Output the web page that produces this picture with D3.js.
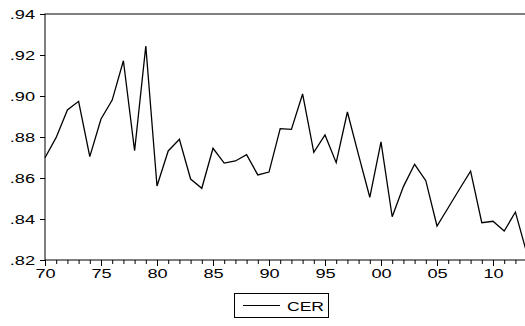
<!DOCTYPE html>
<html>
<head>
<meta charset="utf-8">
<script src="https://cdn.jsdelivr.net/npm/d3@7"></script>
<style>
  body { margin: 0; background: #fff; }
  svg { display: block; }
  text { font-family: "Liberation Sans", Arial, sans-serif; fill: #000; }
</style>
</head>
<body>
<svg id="chart"></svg>
<script>
(() => {

  // CER, annual values 1970-2013
  const years = d3.range(1970, 2014);
  const cer = [
    0.8699, 0.8798, 0.8932, 0.8974, 0.8704, 0.8888, 0.8980, 0.9172, 0.8733, 0.9244,
    0.8561, 0.8732, 0.8789, 0.8595, 0.8550, 0.8745, 0.8673, 0.8683, 0.8714, 0.8615,
    0.8629, 0.8841, 0.8837, 0.9010, 0.8725, 0.8810, 0.8675, 0.8922, 0.8712, 0.8506,
    0.8776, 0.8411, 0.8558, 0.8667, 0.8587, 0.8366, 0.8455, 0.8545, 0.8633, 0.8382,
    0.8389, 0.8341, 0.8434, 0.8237
  ];
  const yTicks = [0.82, 0.84, 0.86, 0.88, 0.90, 0.92, 0.94];
  const xMajor = [1970, 1975, 1980, 1985, 1990, 1995, 2000, 2005, 2010];
  const seriesName = 'CER';

  const svgWidth = 525;
  const svgHeight = 326;
  const margin = { top: 14, left: 45, bottom: 66 };
  const plotRight = 526.6;
  const height = svgHeight - margin.top - margin.bottom;
  const stretch = 1.4; // the source font is drawn wide

  const svg = d3.select('#chart')
    .attr('width', svgWidth)
    .attr('height', svgHeight);

  const xScale = d3.scaleLinear()
    .domain([1970, 2013])
    .range([margin.left, plotRight]);

  const yScale = d3.scaleLinear()
    .domain([0.82, 0.94])
    .range([margin.top + height, margin.top]);

  const fmt = v => d3.format('.2f')(v).replace(/^0/, '');
  const yearFmt = y => String(y % 100).padStart(2, '0');

  // frame
  svg.append('rect')
    .attr('x', margin.left)
    .attr('y', margin.top)
    .attr('width', plotRight - margin.left)
    .attr('height', height)
    .attr('fill', 'none')
    .attr('stroke', '#000')
    .attr('stroke-width', 1);

  // minor year ticks
  const xMinor = svg.append('g')
    .attr('transform', `translate(0, ${margin.top + height})`)
    .call(d3.axisBottom(xScale).tickValues(years).tickSize(4).tickFormat(''));
  xMinor.select('.domain').remove();

  // major ticks with labels
  const xAxis = svg.append('g')
    .attr('transform', `translate(0, ${margin.top + height})`)
    .call(d3.axisBottom(xScale).tickValues(xMajor).tickSize(6).tickPadding(3).tickFormat(yearFmt));
  xAxis.select('.domain').remove();
  xAxis.selectAll('text')
    .attr('font-size', 13)
    .attr('font-family', null)
    .attr('transform', `scale(${stretch},1)`);

  const yAxis = svg.append('g')
    .attr('transform', `translate(${margin.left}, 0)`)
    .call(d3.axisLeft(yScale).tickValues(yTicks).tickSize(5).tickPadding(8).tickFormat(fmt));
  yAxis.select('.domain').remove();
  yAxis.selectAll('text')
    .attr('font-size', 13)
    .attr('font-family', null)
    .attr('transform', `scale(${stretch},1)`)
    .attr('x', -10 / stretch);

  const line = d3.line()
    .x((d, i) => xScale(years[i]))
    .y(d => yScale(d));

  svg.append('path')
    .datum(cer)
    .attr('fill', 'none')
    .attr('stroke', '#000')
    .attr('stroke-width', 1.3)
    .attr('stroke-linejoin', 'miter')
    .attr('d', line);

  // legend
  const legend = svg.append('g')
    .attr('transform', 'translate(234, 293)');
  legend.append('rect')
    .attr('x', 0.5)
    .attr('y', 0.5)
    .attr('width', 94)
    .attr('height', 24)
    .attr('fill', '#fff')
    .attr('stroke', '#000');
  legend.append('line')
    .attr('x1', 9).attr('x2', 46)
    .attr('y1', 12.5).attr('y2', 12.5)
    .attr('stroke', '#000')
    .attr('stroke-width', 1);
  legend.append('text')
    .attr('transform', `translate(53, 17.5) scale(1.3,1)`)
    .attr('font-size', 13.5)
    .text(seriesName);

})();
</script>
</body>
</html>
